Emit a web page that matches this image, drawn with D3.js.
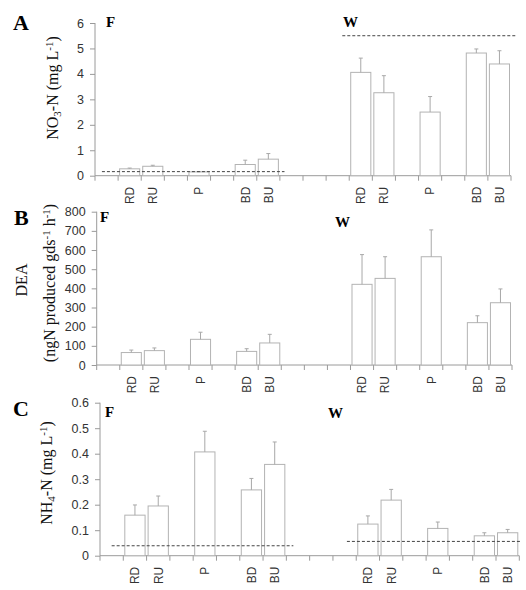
<!DOCTYPE html>
<html>
<head>
<meta charset="utf-8">
<script src="https://cdn.jsdelivr.net/npm/d3@7"></script>
<style>
  body { margin: 0; background: #fff; }
  .tick text { font-family: "Liberation Sans", Arial, sans-serif; fill: #333; }
</style>
</head>
<body>
<div id="chart"></div>
<script>
// 18 category slots along the x axis, F site on the left, W site on the right
const slotLabels = ["", "RD", "RU", "", "P", "", "BD", "BU", "", "", "", "RD", "RU", "", "P", "", "BD", "BU"];

// A: NO3-N (mg/L)
const no3Mean = [null, 0.27, 0.37, null, 0.15, null, 0.44, 0.65, null, null, null, 4.06, 3.26, null, 2.50, null, 4.82, 4.39];
const no3Err  = [null, 0.30, 0.41, null, 0.16, null, 0.61, 0.87, null, null, null, 4.62, 3.93, null, 3.11, null, 4.98, 4.91];
const no3Ticks = [0, 1, 2, 3, 4, 5, 6];
const no3Ref = [{value: 0.16, from: 0.3, to: 8.2}, {value: 5.5, from: 10.7, to: 18.2}];

// B: DEA (ngN produced gds-1 h-1)
const deaMean = [null, 65, 75, null, 134, null, 71, 115, null, null, null, 421, 452, null, 565, null, 221, 325];
const deaErr  = [null, 78, 89, null, 171, null, 85, 160, null, null, null, 576, 565, null, 705, null, 257, 397];
const deaTicks = [0, 100, 200, 300, 400, 500, 600, 700, 800];
const deaRef = [];

// C: NH4-N (mg/L)
const nh4Mean = [null, 0.159, 0.195, null, 0.407, null, 0.258, 0.358, null, null, null, 0.124, 0.218, null, 0.107, null, 0.078, 0.090];
const nh4Err  = [null, 0.199, 0.234, null, 0.488, null, 0.303, 0.446, null, null, null, 0.156, 0.260, null, 0.132, null, 0.090, 0.103];
const nh4Ticks = [0, 0.1, 0.2, 0.3, 0.4, 0.5, 0.6];
const nh4Ref = [{value: 0.039, from: 0.5, to: 8.3}, {value: 0.056, from: 10.6, to: 18.1}];

const width = 526, height = 590;
const svg = d3.select("#chart").append("svg")
    .attr("width", width)
    .attr("height", height);

const serif = "'Liberation Serif', 'Times New Roman', serif";

function drawPanel(opt) {
    let g = svg.append("g");
    let n = slotLabels.length;

    let x = d3.scaleBand()
        .domain(d3.range(n))
        .range([opt.x0, opt.x1])
        .paddingInner(0.13)
        .paddingOuter(0.065);
    let xs = d3.scaleLinear().domain([0, n]).range([opt.x0, opt.x1]);
    let y = d3.scaleLinear()
        .domain([0, d3.max(opt.ticks)])
        .range([opt.y0, opt.y1]);

    // y axis
    let yAxis = g.append("g")
        .attr("transform", `translate(${opt.x0},0)`)
        .call(d3.axisLeft(y).tickValues(opt.ticks).tickSize(5).tickPadding(6)
            .tickFormat(d => d3.format("~g")(d)));
    yAxis.select(".domain").attr("stroke", "#9a9a9a").attr("d", `M0,${opt.y0}V${opt.y1}`);
    yAxis.selectAll(".tick line").attr("stroke", "#9a9a9a");
    yAxis.selectAll(".tick text").attr("font-size", 12.5);

    // x axis: tick marks at slot boundaries, labels at slot centres
    g.append("line")
        .attr("x1", opt.x0).attr("x2", opt.x1)
        .attr("y1", opt.y0).attr("y2", opt.y0)
        .attr("stroke", "#9a9a9a");
    g.selectAll(".xtick")
        .data(d3.range(n + 1))
        .enter()
        .append("line")
        .attr("x1", d => xs(d)).attr("x2", d => xs(d))
        .attr("y1", opt.y0).attr("y2", opt.y0 + 5)
        .attr("stroke", "#9a9a9a");
    g.selectAll(".xlabel")
        .data(slotLabels.map((l, i) => ({l: l, i: i})).filter(d => d.l !== ""))
        .enter()
        .append("text")
        .attr("transform", d => `translate(${x(d.i) + x.bandwidth() / 2},${opt.y0 + 11}) rotate(-90)`)
        .attr("text-anchor", "end")
        .attr("dy", "0.36em")
        .attr("font-family", "'Liberation Sans', Arial, sans-serif")
        .attr("font-size", 12)
        .attr("fill", "#333")
        .text(d => d.l);

    let rows = opt.mean.map((m, i) => ({i: i, m: m, e: opt.err[i]})).filter(d => d.m !== null);

    // bars
    g.selectAll(".bar")
        .data(rows)
        .enter()
        .append("rect")
        .attr("x", d => x(d.i))
        .attr("width", x.bandwidth())
        .attr("y", d => y(d.m))
        .attr("height", d => y(0) - y(d.m))
        .attr("fill", "#fff")
        .attr("stroke", "#b3b3b3")
        .attr("stroke-width", 1);

    // upper error bars
    g.selectAll(".err")
        .data(rows)
        .enter()
        .append("path")
        .attr("d", d => {
            let cx = x(d.i) + x.bandwidth() / 2;
            return `M${cx},${y(d.m)}V${y(d.e)}M${cx - 2},${y(d.e)}H${cx + 2}`;
        })
        .attr("fill", "none")
        .attr("stroke", "#a8a8a8");

    // dashed reference lines
    g.selectAll(".ref")
        .data(opt.refs)
        .enter()
        .append("line")
        .attr("x1", d => xs(d.from)).attr("x2", d => xs(d.to))
        .attr("y1", d => y(d.value)).attr("y2", d => y(d.value))
        .attr("stroke", "#444")
        .attr("stroke-width", 1)
        .attr("stroke-dasharray", "3,2");

    // panel letter and site labels
    g.append("text")
        .attr("x", opt.letterPos[0]).attr("y", opt.letterPos[1])
        .attr("font-family", serif).attr("font-weight", "bold").attr("font-size", 22)
        .text(opt.letter);
    g.append("text")
        .attr("x", opt.fPos[0]).attr("y", opt.fPos[1])
        .attr("font-family", serif).attr("font-weight", "bold").attr("font-size", 15)
        .text("F");
    g.append("text")
        .attr("x", opt.wPos[0]).attr("y", opt.wPos[1])
        .attr("font-family", serif).attr("font-weight", "bold").attr("font-size", 15)
        .text("W");

    // y axis title lines
    opt.titles.forEach(t => {
        let txt = g.append("text")
            .attr("transform", `translate(${t.x},${t.y}) rotate(-90)`)
            .attr("text-anchor", "middle")
            .attr("font-family", serif)
            .attr("font-size", 16)
            .attr("fill", "#111");
        t.parts.forEach(p => {
            let s = txt.append("tspan").text(p[0]);
            if (p[1] === "sub") s.attr("baseline-shift", "-25%").attr("font-size", 11);
            if (p[1] === "sup") s.attr("baseline-shift", "45%").attr("font-size", 11);
        });
    });
}

drawPanel({
    x0: 95, x1: 511, y0: 175.7, y1: 23,
    mean: no3Mean, err: no3Err, ticks: no3Ticks, refs: no3Ref,
    letter: "A", letterPos: [13, 30], fPos: [106, 27], wPos: [343, 27],
    titles: [{x: 58, y: 88, parts: [["NO"], ["3", "sub"], ["-N (mg L"], ["-1", "sup"], [")"]]}]
});

drawPanel({
    x0: 96.7, x1: 512, y0: 365, y1: 211.7,
    mean: deaMean, err: deaErr, ticks: deaTicks, refs: deaRef,
    letter: "B", letterPos: [14, 225], fPos: [100, 222], wPos: [335, 227],
    titles: [
        {x: 27, y: 280, parts: [["DEA"]]},
        {x: 55, y: 283, parts: [["(ngN produced gds"], ["-1", "sup"], [" h"], ["-1", "sup"], [")"]]}
    ]
});

drawPanel({
    x0: 100, x1: 519.3, y0: 555.7, y1: 402.7,
    mean: nh4Mean, err: nh4Err, ticks: nh4Ticks, refs: nh4Ref,
    letter: "C", letterPos: [13, 416], fPos: [105, 417], wPos: [328, 418],
    titles: [{x: 52, y: 473, parts: [["NH"], ["4", "sub"], ["-N (mg L"], ["-1", "sup"], [")"]]}]
});
</script>
</body>
</html>
